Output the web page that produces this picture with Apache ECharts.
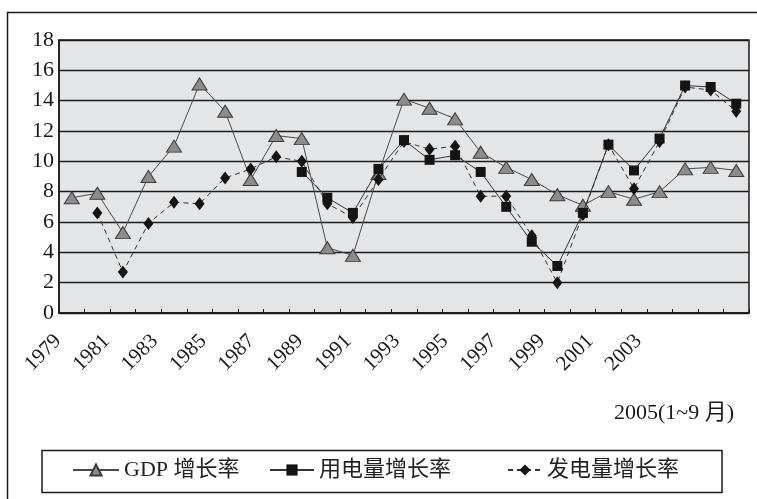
<!DOCTYPE html>
<html>
<head>
<meta charset="utf-8">
<script src="https://cdn.jsdelivr.net/npm/echarts@6/dist/echarts.min.js"></script>
<style>
  html, body { margin: 0; padding: 0; background: #fff; }
  #chart { width: 757px; height: 499px; }
</style>
</head>
<body>
<div id="chart"></div>
<script>
const years = ['1979', '1980', '1981', '1982', '1983', '1984', '1985', '1986', '1987', '1988',
  '1989', '1990', '1991', '1992', '1993', '1994', '1995', '1996', '1997', '1998',
  '1999', '2000', '2001', '2002', '2003', '2004', '2005(1~9 月)'];

const gdpGrowth = [7.6, 7.9, 5.3, 9.0, 11.0, 15.1, 13.3, 8.8, 11.7, 11.5,
  4.3, 3.8, 9.2, 14.1, 13.5, 12.8, 10.6, 9.6, 8.8, 7.8,
  7.1, 8.0, 7.5, 8.0, 9.5, 9.6, 9.4];

const useGrowth = [null, null, null, null, null, null, null, null, null, 9.3,
  7.6, 6.6, 9.5, 11.4, 10.1, 10.4, 9.3, 7.0, 4.7, 3.1,
  6.6, 11.1, 9.4, 11.5, 15.0, 14.9, 13.8];

const genGrowth = [null, 6.6, 2.7, 5.9, 7.3, 7.2, 8.9, 9.5, 10.3, 10.0,
  7.2, 6.3, 8.8, 11.3, 10.8, 11.0, 7.7, 7.7, 5.1, 2.0,
  6.5, 11.1, 8.2, 11.3, 14.9, 14.7, 13.3];

const yTicks = { min: 0, max: 18, interval: 2 };

const serif = "'Liberation Serif', 'Noto Sans CJK SC', serif";
const chart = echarts.init(document.getElementById('chart'), null, { renderer: 'canvas' });

const legendBase = {
  top: 459,
  padding: 0,
  itemHeight: 14,
  textStyle: { fontFamily: serif, fontSize: 22, color: '#222' }
};

const option = {
  animation: false,
  backgroundColor: '#fff',
  grid: [
    {
      left: 59, top: 40, width: 690, height: 273,
      show: true, backgroundColor: '#e4e5e7', borderColor: '#1a1a1a', borderWidth: 1.5
    },
    // labels only: the printed year labels sit on a slightly tighter spacing
    { left: 46, top: 300, width: 653, height: 13 }
  ],
  legend: [
    Object.assign({}, legendBase, { left: 72, itemWidth: 46, data: ['GDP 增长率'] }),
    Object.assign({}, legendBase, { left: 269, itemWidth: 44, data: ['用电量增长率'] }),
    Object.assign({}, legendBase, { left: 507, itemWidth: 34, data: ['发电量增长率'] })
  ],
  xAxis: [
    {
      type: 'category',
      gridIndex: 0,
      data: years,
      boundaryGap: true,
      axisLine: { show: true, lineStyle: { color: '#1a1a1a', width: 1.5 } },
      axisTick: { show: true, inside: true, length: 4, interval: 0, lineStyle: { color: '#1a1a1a' } },
      axisLabel: { show: false },
      splitLine: { show: false }
    },
    {
      type: 'category',
      gridIndex: 1,
      data: years,
      boundaryGap: true,
      axisLine: { show: false },
      axisTick: { show: false },
      axisLabel: {
        interval: 1,
        rotate: 45,
        margin: 25,
        fontFamily: serif,
        fontSize: 21,
        color: '#1a1a1a',
        formatter: (v, i) => (i === years.length - 1 ? '' : v)
      }
    }
  ],
  yAxis: [
    {
      type: 'value',
      gridIndex: 0,
      min: yTicks.min,
      max: yTicks.max,
      interval: yTicks.interval,
      axisLine: { show: true, lineStyle: { color: '#1a1a1a', width: 1.5 } },
      axisTick: { show: false },
      axisLabel: { margin: 5, fontFamily: serif, fontSize: 22, color: '#1a1a1a' },
      splitLine: { show: true, lineStyle: { color: '#1c1c1c', width: 1.3 } }
    },
    { type: 'value', gridIndex: 1, show: false }
  ],
  series: [
    {
      name: 'GDP 增长率',
      type: 'line',
      xAxisIndex: 0,
      yAxisIndex: 0,
      z: 2,
      data: gdpGrowth,
      symbol: 'triangle',
      symbolSize: [15, 12],
      lineStyle: { color: '#4a4a4a', width: 1 },
      itemStyle: { color: '#8c8c8c', borderColor: '#3a3a3a', borderWidth: 1 }
    },
    {
      name: '发电量增长率',
      type: 'line',
      xAxisIndex: 0,
      yAxisIndex: 0,
      z: 3,
      data: genGrowth,
      symbol: 'diamond',
      symbolSize: [10, 13],
      lineStyle: { color: '#333', width: 1, type: [5, 4] },
      itemStyle: { color: '#141414' }
    },
    {
      name: '用电量增长率',
      type: 'line',
      xAxisIndex: 0,
      yAxisIndex: 0,
      z: 4,
      data: useGrowth,
      symbol: 'rect',
      symbolSize: 10,
      lineStyle: { color: '#333', width: 1 },
      itemStyle: { color: '#141414' }
    }
  ],
  graphic: [
    {
      type: 'rect',
      shape: { x: 7.5, y: 12.5, width: 800, height: 600 },
      style: { fill: 'none', stroke: '#1a1a1a', lineWidth: 1.5 },
      silent: true
    },
    {
      type: 'rect',
      shape: { x: 42, y: 450.5, width: 680, height: 42 },
      style: { fill: 'none', stroke: '#1a1a1a', lineWidth: 1.5 },
      silent: true
    },
    {
      type: 'text',
      left: 614,
      top: 402,
      style: {
        text: years[years.length - 1],
        fontFamily: serif,
        fontSize: 22,
        fill: '#1a1a1a'
      }
    }
  ]
};

chart.setOption(option);
</script>
</body>
</html>
